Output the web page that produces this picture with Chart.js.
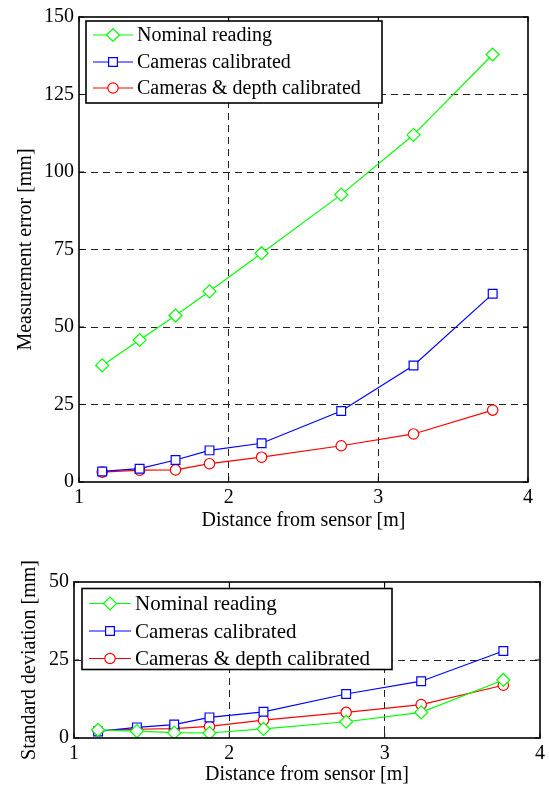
<!DOCTYPE html>
<html>
<head>
<meta charset="utf-8">
<script src="https://cdn.jsdelivr.net/npm/chart.js@4/dist/chart.umd.min.js"></script>
<style>
  body { margin: 0; background: #fff; }
  canvas { position: absolute; left: 0; }
  #errChart { top: 0; }
  #stdChart { top: 550px; }
</style>
</head>
<body>
<canvas id="errChart" width="549" height="545"></canvas>
<canvas id="stdChart" width="549" height="242"></canvas>
<script>
const FONT = "'Liberation Serif', 'Times New Roman', serif";
Chart.defaults.font.family = FONT;
Chart.defaults.color = '#000';

// distance from sensor [m]
const distance = [1.155, 1.405, 1.645, 1.872, 2.22, 2.752, 3.235, 3.764];

// measurement error [mm]
const nominalError = [37.6, 45.8, 53.7, 61.5, 73.8, 92.7, 112.0, 137.9];
const camerasError = [3.4, 4.3, 7.1, 10.2, 12.5, 22.9, 37.6, 60.7];
const depthError = [3.2, 3.8, 3.9, 5.9, 8.0, 11.7, 15.5, 23.2];

// standard deviation [mm]
const nominalStd = [2.6, 2.2, 1.7, 1.6, 2.9, 5.2, 8.2, 18.6];
const camerasStd = [2.1, 3.4, 4.3, 6.6, 8.4, 14.1, 18.2, 27.9];
const depthStd = [2.4, 2.8, 3.0, 3.7, 5.7, 8.2, 10.7, 16.9];

const seriesNames = ['Nominal reading', 'Cameras calibrated', 'Cameras & depth calibrated'];
const seriesColors = ['#00ff00', '#0000ff', '#ff0000'];
const seriesMarkers = ['rectRot', 'rect', 'circle'];
const markerSizes = [6.5, 6.2, 5.2];

function makeDatasets(valueLists) {
    return valueLists.map((vals, i) => ({
        label: seriesNames[i],
        data: distance.map((d, k) => ({ x: d, y: vals[k] })),
        borderColor: seriesColors[i],
        borderWidth: 1.2,
        pointStyle: seriesMarkers[i],
        pointRadius: markerSizes[i],
        pointBorderColor: seriesColors[i],
        pointBackgroundColor: '#ffffff',
        pointBorderWidth: 1.2,
        tension: 0,
        fill: false
    }));
}

// box around the axes with inward tick marks (MATLAB look)
const frame = {
    id: 'frame',
    afterDatasetsDraw(chart) {
        const { ctx, chartArea: a } = chart;
        const xs = chart.scales.x, ys = chart.scales.y;
        ctx.save();
        ctx.strokeStyle = '#000';
        ctx.lineWidth = 1;
        ctx.beginPath();
        xs.ticks.forEach(t => {
            const px = xs.getPixelForValue(t.value);
            ctx.moveTo(px, a.bottom); ctx.lineTo(px, a.bottom - 5);
            ctx.moveTo(px, a.top); ctx.lineTo(px, a.top + 5);
        });
        ys.ticks.forEach(t => {
            const py = ys.getPixelForValue(t.value);
            ctx.moveTo(a.left, py); ctx.lineTo(a.left + 5, py);
            ctx.moveTo(a.right, py); ctx.lineTo(a.right - 5, py);
        });
        ctx.stroke();
        ctx.lineWidth = 1.6;
        ctx.strokeRect(a.left, a.top, a.right - a.left, a.bottom - a.top);
        ctx.restore();
    }
};

// legend drawn as a boxed list with line + marker samples
const boxLegend = {
    id: 'boxLegend',
    afterDatasetsDraw(chart, args, opts) {
        const ctx = chart.ctx;
        ctx.save();
        ctx.fillStyle = '#fff';
        ctx.fillRect(opts.x, opts.y, opts.w, opts.h);
        ctx.strokeStyle = '#000';
        ctx.lineWidth = 1.6;
        ctx.strokeRect(opts.x, opts.y, opts.w, opts.h);
        ctx.font = opts.font;
        ctx.textBaseline = 'middle';
        chart.data.datasets.forEach((ds, i) => {
            const cy = opts.rows[i];
            ctx.strokeStyle = ds.borderColor;
            ctx.lineWidth = 1.2;
            ctx.beginPath();
            ctx.moveTo(opts.lineFrom, cy);
            ctx.lineTo(opts.lineTo, cy);
            ctx.stroke();
            ctx.fillStyle = '#fff';
            Chart.helpers.drawPoint(ctx, {
                pointStyle: ds.pointStyle,
                radius: ds.pointRadius,
                borderWidth: 1.2,
                rotation: 0
            }, (opts.lineFrom + opts.lineTo) / 2, cy);
            ctx.fillStyle = '#000';
            ctx.fillText(ds.label, opts.textX, cy + 1);
        });
        ctx.restore();
    }
};

function dashedInterior(min, max) {
    return ctx => (ctx.tick && ctx.tick.value > min && ctx.tick.value < max) ? '#222' : 'rgba(0,0,0,0)';
}

function makeChart(id, valueLists, cfg) {
    return new Chart(document.getElementById(id), {
        type: 'line',
        data: { datasets: makeDatasets(valueLists) },
        plugins: [frame, boxLegend],
        options: {
            responsive: false,
            animation: false,
            layout: { padding: cfg.padding },
            plugins: {
                legend: { display: false },
                tooltip: { enabled: false },
                boxLegend: cfg.legend
            },
            scales: {
                x: {
                    type: 'linear',
                    min: 1,
                    max: 4,
                    afterFit: s => { s.height = cfg.xHeight; },
                    ticks: { stepSize: 1, color: '#000', padding: 4, font: { family: FONT, size: cfg.fontSize } },
                    grid: { color: dashedInterior(1, 4), lineWidth: 1, drawTicks: false },
                    border: { display: false, dash: [7, 5] },
                    title: {
                        display: true,
                        text: 'Distance from sensor [m]',
                        color: '#000',
                        padding: { top: 0, bottom: cfg.xTitlePad },
                        font: { family: FONT, size: cfg.fontSize }
                    }
                },
                y: {
                    min: 0,
                    max: cfg.yMax,
                    afterFit: s => { s.width = cfg.yWidth; },
                    ticks: { stepSize: 25, color: '#000', padding: 5, font: { family: FONT, size: cfg.fontSize } },
                    grid: { color: dashedInterior(0, cfg.yMax), lineWidth: 1, drawTicks: false },
                    border: { display: false, dash: [7, 5] },
                    title: {
                        display: true,
                        text: cfg.yTitle,
                        color: '#000',
                        padding: { top: cfg.yTitlePad, bottom: 0 },
                        font: { family: FONT, size: cfg.fontSize }
                    }
                }
            }
        }
    });
}

makeChart('errChart', [nominalError, camerasError, depthError], {
    padding: { left: 0, right: 21, top: 14, bottom: 0 },
    xHeight: 63,
    yWidth: 79,
    xTitlePad: 12,
    yTitlePad: 14,
    yMax: 150,
    fontSize: 20,
    yTitle: 'Measurement error [mm]',
    legend: {
        x: 86, y: 21, w: 296, h: 82,
        rows: [35, 62, 88],
        lineFrom: 93, lineTo: 133, textX: 137,
        font: '20px ' + FONT
    }
});

makeChart('stdChart', [nominalStd, camerasStd, depthStd], {
    padding: { left: 0, right: 5, top: 32, bottom: 0 },
    xHeight: 54,
    yWidth: 74,
    xTitlePad: 5,
    yTitlePad: 18,
    yMax: 50,
    fontSize: 20,
    yTitle: 'Standard deviation [mm]',
    legend: {
        x: 82, y: 38.5, w: 310, h: 81,
        rows: [53.5, 81, 108.5],
        lineFrom: 89, lineTo: 131, textX: 135,
        font: '21px ' + FONT
    }
});
</script>
</body>
</html>
